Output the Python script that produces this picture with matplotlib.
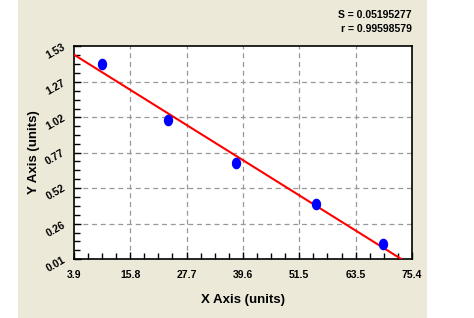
import numpy as np
import matplotlib
matplotlib.use("Agg")
import matplotlib.pyplot as plt
from matplotlib.patches import Rectangle
from matplotlib.path import Path

plt.rcParams['font.family'] = ['Liberation Sans', 'DejaVu Sans']

# standard points
conc = [9.82, 23.85, 38.17, 55.09, 69.27]
od = [1.402, 1.002, 0.695, 0.402, 0.117]

x_ticks = [3.9, 15.8, 27.7, 39.6, 51.5, 63.5, 75.4]
y_ticks = [0.01, 0.26, 0.52, 0.77, 1.02, 1.27, 1.53]
x_labels = ["3.9", "15.8", "27.7", "39.6", "51.5", "63.5", "75.4"]
y_labels = ["0.01", "0.26", "0.52", "0.77", "1.02", "1.27", "1.53"]

s_text = "S = 0.05195277"
r_text = "r = 0.99598579"

fig = plt.figure(figsize=(4.74, 3.18), dpi=100)
fig.patch.set_facecolor("white")
fig.patches.append(Rectangle((18 / 474, 0), (427 - 18) / 474, 1, transform=fig.transFigure,
                             facecolor="#ECE9D8", edgecolor="none", zorder=-10))

ax = fig.add_axes([74 / 474, 1 - 259 / 318, 338 / 474, 213 / 318])
ax.set_facecolor("white")

# linear fit
slope, icpt = np.polyfit(conc, od, 1)
xf = np.array([x_ticks[0], x_ticks[-1]])
ax.plot(xf, slope * xf + icpt, color="red", lw=1.5, zorder=3)

# slightly tall ellipse marker
t = np.linspace(0, 2 * np.pi, 40)
ell = Path(np.column_stack([0.8 * np.cos(t), np.sin(t)]), closed=True)
ax.scatter(conc, od, marker=ell, s=70, color="#0000FF", zorder=4, linewidths=0)

ax.set_xlim(x_ticks[0], x_ticks[-1])
ax.set_ylim(y_ticks[0], y_ticks[-1])
ax.set_xticks(x_ticks)
ax.set_xticklabels(x_labels, fontweight="bold", fontsize=7.5)
ax.set_yticks(y_ticks)
ax.set_yticklabels(y_labels, fontweight="bold", fontsize=7.5, rotation=30,
                   rotation_mode="anchor", ha="right", va="center")

xminor = []
for a, b in zip(x_ticks[:-1], x_ticks[1:]):
    xminor += list(np.linspace(a, b, 5)[1:-1])
yminor = []
for a, b in zip(y_ticks[:-1], y_ticks[1:]):
    yminor += list(np.linspace(a, b, 5)[1:-1])
ax.set_xticks(xminor, minor=True)
ax.set_yticks(yminor, minor=True)

ax.tick_params(which="major", direction="in", length=5, width=1)
ax.tick_params(which="minor", direction="in", length=4, width=1)
ax.tick_params(axis="x", which="major", pad=8)
ax.tick_params(axis="y", which="major", pad=7)

for v in x_ticks[1:-1]:
    ax.axvline(v, color="#999999", lw=0.9, ls=(0, (4, 3)), zorder=1)
for v in y_ticks[1:-1]:
    ax.axhline(v, color="#999999", lw=0.9, ls=(0, (4, 3)), zorder=1)

for sp in ax.spines.values():
    sp.set_linewidth(1.2)

ax.set_xlabel("X Axis (units)", fontweight="bold", fontsize=9.5, labelpad=10)
ax.set_ylabel("Y Axis (units)", fontweight="bold", fontsize=9.5, labelpad=3)

fig.text(412 / 474, 1 - 15 / 318, s_text, ha="right", va="center", fontweight="bold", fontsize=7.5)
fig.text(412 / 474, 1 - 29 / 318, r_text, ha="right", va="center", fontweight="bold", fontsize=7.5)

fig.savefig("out.png", dpi=100)
